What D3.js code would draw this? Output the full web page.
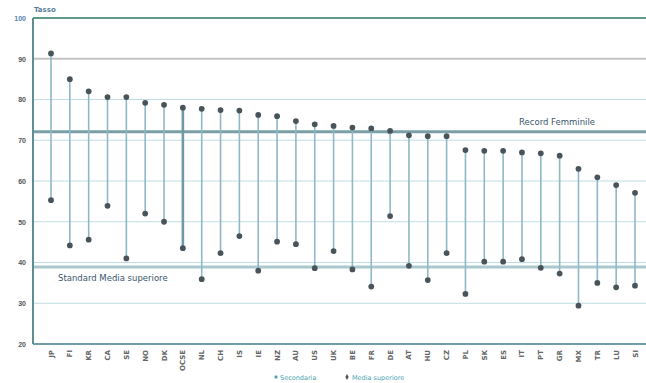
<!DOCTYPE html>
<html><head><meta charset="utf-8">
<script src="https://cdn.jsdelivr.net/npm/d3@7"></script>
<style>body{margin:0;background:#fff;}svg{display:block;font-family:"DejaVu Sans",sans-serif;}</style>
</head><body><svg id="c" width="646" height="383"></svg>
<script>
const categories = ["JP","FI","KR","CA","SE","NO","DK","OCSE","NL","CH","IS","IE","NZ","AU","US","UK","BE","FR","DE","AT","HU","CZ","PL","SK","ES","IT","PT","GR","MX","TR","LU","SI"];
const mediaSuperiore = [91.3,85.0,82.0,80.6,80.6,79.2,78.7,78.0,77.7,77.4,77.3,76.2,75.9,74.7,73.9,73.5,73.1,72.9,72.3,71.2,71.0,71.0,67.6,67.4,67.4,67.0,66.8,66.2,63.0,60.9,59.0,57.1];
const secondaria = [55.3,44.2,45.6,53.9,41.0,52.0,50.0,43.5,35.9,42.3,46.5,38.0,45.1,44.5,38.6,42.8,38.3,34.1,51.4,39.2,35.7,42.3,32.3,40.2,40.2,40.8,38.7,37.3,29.4,35.0,33.9,34.3];
const yTicks = [20,30,40,50,60,70,80,90,100];
const refLines = [{v:72.1,label:"Record Femminile"},{v:38.9,label:"Standard Media superiore"}];
const legendItems = ["Secondaria","Media superiore"];

const svg = d3.select("#c");
const L=33, R=646, T=18, B=344;
const y = d3.scaleLinear().domain([20,100]).range([B,T]);
const x = d3.scalePoint().domain(categories).range([51,635]);

svg.append("g").selectAll("line").data(yTicks.filter(d=>d>20&&d<100)).join("line")
  .attr("x1",L).attr("x2",R).attr("y1",d=>y(d)).attr("y2",d=>y(d))
  .attr("stroke",d=>d===90?"#c4c4c4":"#bfdde2").attr("stroke-width",d=>d===90?2:1.2);

svg.append("g").selectAll("line").data(refLines).join("line")
  .attr("x1",L).attr("x2",R).attr("y1",d=>y(d.v)).attr("y2",d=>y(d.v))
  .attr("stroke",(d,i)=>i===0?"#7a9fa6":"#a9c9ce").attr("stroke-width",3);

svg.append("line").attr("x1",L).attr("x2",R).attr("y1",T).attr("y2",T).attr("stroke","#5e9a8c").attr("stroke-width",2);
svg.append("line").attr("x1",L).attr("x2",R).attr("y1",B).attr("y2",B).attr("stroke","#6f9ea8").attr("stroke-width",2);
svg.append("line").attr("x1",L).attr("x2",L).attr("y1",T).attr("y2",B).attr("stroke","#5f8e92").attr("stroke-width",2);

const yAxis = d3.axisLeft(y).tickValues(yTicks).tickSize(0).tickPadding(7);
const ga = svg.append("g").attr("transform",`translate(${L},0)`).call(yAxis);
ga.select(".domain").remove();
ga.selectAll("text").attr("font-size",7).attr("font-weight","bold").attr("fill",d=>d===100?"#5a7fb0":"#555");

svg.append("text").attr("x",L+1).attr("y",T-6).attr("font-size",7).attr("font-weight","bold").attr("fill","#5a7f9a").text("Tasso");

const g = svg.append("g");
g.selectAll("line.stem").data(categories).join("line").attr("class","stem")
  .attr("x1",d=>x(d)).attr("x2",d=>x(d))
  .attr("y1",(d,i)=>y(mediaSuperiore[i])).attr("y2",(d,i)=>y(secondaria[i]))
  .attr("stroke",(d,i)=>i===7?"#6e9aa6":"#8fb8c6").attr("stroke-width",(d,i)=>i===7?2.6:1.6);
g.selectAll("path.top").data(categories).join("path").attr("class","top")
  .attr("d",d3.symbol(d3.symbolCircle,26))
  .attr("transform",(d,i)=>`translate(${x(d)},${y(mediaSuperiore[i])})`).attr("fill","#48545a");
g.selectAll("path.bot").data(categories).join("path").attr("class","bot")
  .attr("d",d3.symbol(d3.symbolCircle,26))
  .attr("transform",(d,i)=>`translate(${x(d)},${y(secondaria[i])})`).attr("fill","#48545a");

svg.append("text").attr("x",519).attr("y",y(72.1)-7).attr("font-size",8.5).attr("fill","#3a566c").text(refLines[0].label);
svg.append("text").attr("x",58).attr("y",y(38.9)+14).attr("font-size",8.5).attr("fill","#3a566c").text(refLines[1].label);

svg.append("g").selectAll("text").data(categories).join("text")
  .attr("transform",d=>`translate(${x(d)+2.5},${B+6}) rotate(-90)`)
  .attr("text-anchor","end").attr("font-size",7).attr("font-weight","bold").attr("fill","#666").text(d=>d);

const lg = svg.append("g").attr("font-size",6.5).attr("fill","#4a9fb2");
lg.append("path").attr("d",d3.symbol(d3.symbolSquare,8)).attr("transform","translate(276,377)").attr("fill","#4a9fb2");
lg.append("text").attr("x",280).attr("y",379.5).text(legendItems[0]);
lg.append("path").attr("d",d3.symbol(d3.symbolDiamond,10)).attr("transform","translate(347,377)").attr("fill","#555");
lg.append("text").attr("x",352).attr("y",379.5).text(legendItems[1]);
</script></body></html>
